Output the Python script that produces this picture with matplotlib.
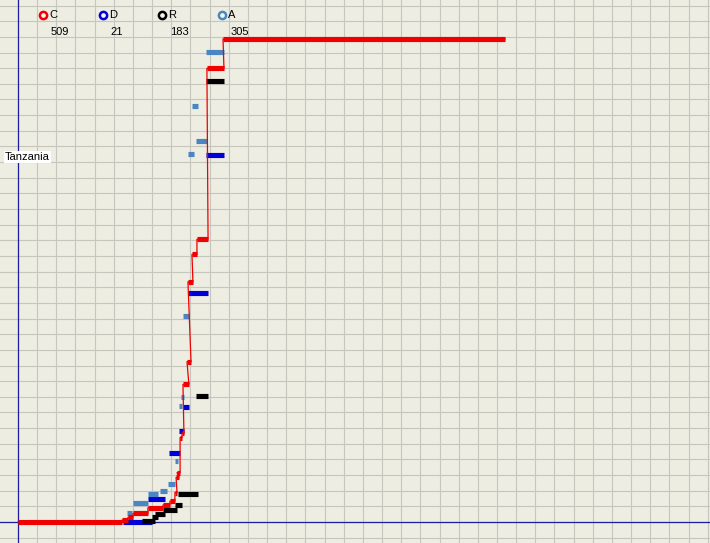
import matplotlib.pyplot as plt
from matplotlib.ticker import MultipleLocator

plt.rcParams['font.family'] = ['Liberation Sans', 'DejaVu Sans']

# x in grid cells from the vertical axis, y in C-count units
# C : step line with a bar for each point
C_x0 = [0, 5.43, 5.74, 6.00, 6.78, 7.57, 7.93, 8.19, 8.25, 8.30, 8.46, 8.56, 8.61, 8.82, 8.87, 9.08, 9.34, 9.86, 10.70]
C_x1 = [5.43, 5.74, 6.00, 6.78, 7.57, 7.93, 8.19, 8.30, 8.40, 8.46, 8.56, 8.66, 8.92, 9.03, 9.13, 9.34, 9.92, 10.75, 25.42]
C_y = [0, 2, 5, 9, 15, 18, 22, 31, 47, 52, 89, 94, 145, 169, 253, 282, 298, 478, 509]

D_x0 = [5.48, 6.78, 7.88, 8.40, 8.61, 8.87, 9.81]
D_x1 = [6.99, 7.67, 8.46, 8.66, 8.92, 9.92, 10.75]
D_y = [0, 24, 73, 96, 121, 241, 387]

R_x0 = [6.47, 7.00, 7.15, 7.57, 8.19, 8.35, 9.29, 9.81]
R_x1 = [7.15, 7.31, 7.67, 8.30, 8.56, 9.39, 9.92, 10.75]
R_y = [1, 5, 8, 13, 18, 30, 133, 465]

A_x0 = [5.69, 6.00, 6.78, 7.41, 7.83, 8.19, 8.40, 8.51, 8.61, 8.87, 9.29, 9.08, 9.81]
A_x1 = [5.95, 6.78, 7.31, 7.78, 8.19, 8.35, 8.56, 8.66, 8.92, 9.19, 9.86, 9.39, 10.75]
A_y = [9, 20, 30, 33, 40, 64, 122, 132, 217, 388, 401, 438, 495]

legend_names = ['C', 'D', 'R', 'A']
legend_counts = [509, 21, 183, 305]
colors = {'C': '#f00000', 'D': '#0000d8', 'R': '#000000', 'A': '#4a86c4'}
region = 'Tanzania'

bg = '#eeede2'
axis_col = '#1c1ca0'

fig = plt.figure(figsize=(7.10, 5.43), dpi=100)
fig.patch.set_facecolor(bg)
ax = fig.add_axes([0, 0, 1, 1])
ax.set_facecolor(bg)

ax.set_xlim(-0.939, 36.117)
ax.set_ylim(-22.13, 550.08)
ax.xaxis.set_major_locator(MultipleLocator(1))
ax.yaxis.set_major_locator(MultipleLocator(16.49))
ax.grid(True, color='#c6c6be', lw=0.8)
ax.set_axisbelow(True)
ax.tick_params(length=0, labelbottom=False, labelleft=False)
for s in ax.spines.values():
    s.set_visible(False)

ax.axvline(0, color=axis_col, lw=0.9, zorder=1)
ax.axhline(0, color=axis_col, lw=0.9, zorder=1)

bar_lw = 3.7
ax.hlines(D_y, D_x0, D_x1, colors=colors['D'], lw=bar_lw, capstyle='butt', zorder=2)
ax.hlines(R_y, R_x0, R_x1, colors=colors['R'], lw=bar_lw, capstyle='butt', zorder=3)
ax.hlines(A_y, A_x0, A_x1, colors=colors['A'], lw=bar_lw, capstyle='butt', zorder=4)

# thin connecting line for C
lx, ly = [], []
for a, b, y in zip(C_x0, C_x1, C_y):
    lx += [a, b]
    ly += [y, y]
ax.plot(lx, ly, color=colors['C'], lw=0.9, zorder=5)
ax.hlines(C_y, C_x0, C_x1, colors=colors['C'], lw=bar_lw, capstyle='butt', zorder=6)

# legend across the top
W, H = 710, 543
for i, (name, cnt) in enumerate(zip(legend_names, legend_counts)):
    mx = 43 + i * 59.7
    ax.plot([mx / W], [1 - 15 / H], 'o', transform=ax.transAxes, ms=5.2,
            mfc='#f4f4f4', mec=colors[name], mew=1.8, zorder=7, clip_on=False)
    ax.text((mx + 6) / W, 1 - 15 / H, name, transform=ax.transAxes,
            fontsize=8, va='center', ha='left', color='black')
    ax.text((mx + 8) / W, 1 - 32 / H, str(cnt), transform=ax.transAxes,
            fontsize=8, va='center', ha='left', color='black')

ax.text(5 / W, 1 - 157 / H, region, transform=ax.transAxes, fontsize=8,
        va='center', ha='left', color='black', zorder=8,
        bbox=dict(boxstyle='square,pad=0.12', fc='white', ec='none'))

fig.savefig('out.png', dpi=100, facecolor=bg)
